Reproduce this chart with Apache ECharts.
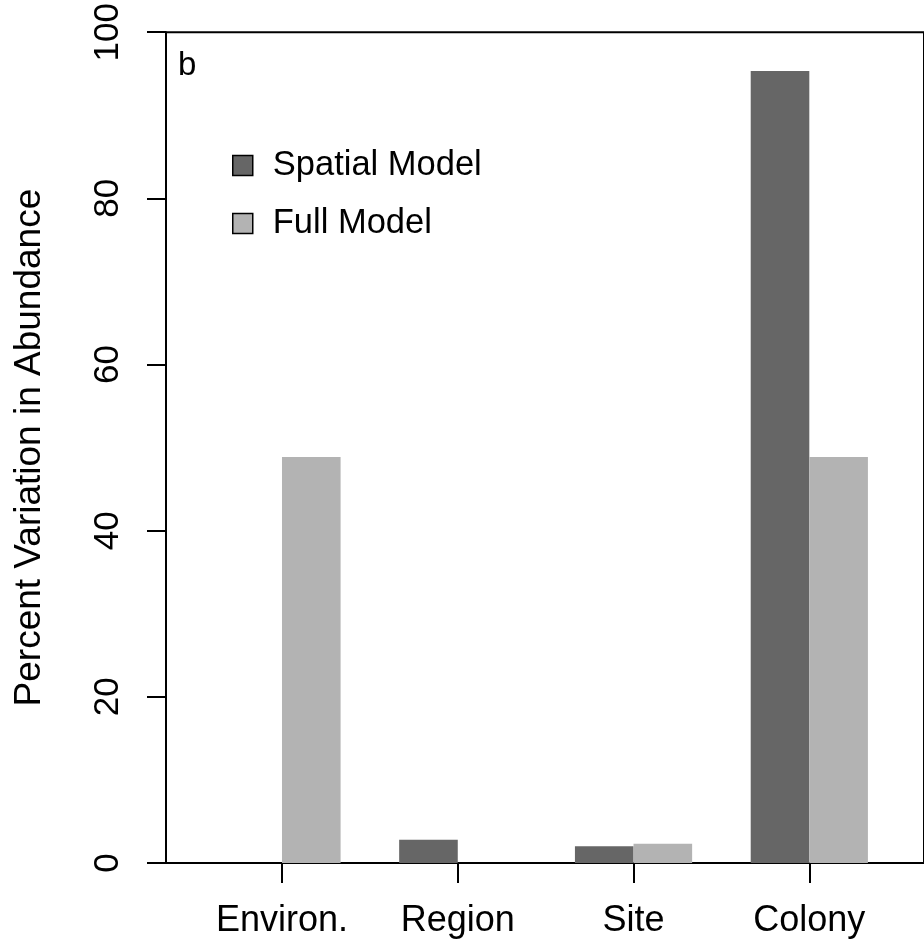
<!DOCTYPE html>
<html>
<head>
<meta charset="utf-8">
<script src="https://cdn.jsdelivr.net/npm/echarts@6/dist/echarts.min.js"></script>
<style>
html,body{margin:0;padding:0;background:#fff;}
#chart{width:924px;height:943px;}
</style>
</head>
<body>
<div id="chart"></div>
<script>
var categories = ['Environ.', 'Region', 'Site', 'Colony'];
var spatialModel = [0, 2.8, 2.0, 95.2];
var fullModel = [48.8, 0, 2.3, 48.8];
var yMin = 0, yMax = 100, yStep = 20;
var seriesNames = ['Spatial Model', 'Full Model'];
var panelLabel = 'b';
var yTitle = 'Percent Variation in Abundance';

var FONT = '"Liberation Sans", Arial, Helvetica, sans-serif';
var chart = echarts.init(document.getElementById('chart'), null, {renderer: 'canvas'});
var option = {
  animation: false,
  backgroundColor: '#fff',
  textStyle: {fontFamily: FONT, color: '#000'},
  title: {
    text: panelLabel, left: 178, top: 49, padding: 0,
    textStyle: {fontFamily: FONT, fontSize: 33, fontWeight: 'normal', color: '#000'}
  },
  legend: {
    orient: 'vertical', left: 232, top: 148, itemGap: 23, padding: 0,
    icon: 'rect', itemWidth: 20, itemHeight: 20,
    itemStyle: {borderColor: '#000', borderWidth: 1.5},
    textStyle: {fontFamily: FONT, fontSize: 34.5, color: '#000', padding: [0, 0, 0, 15]},
    data: seriesNames
  },
  grid: [
    {left: 166, top: 31, width: 770, height: 832, show: true, borderColor: '#000', borderWidth: 2, backgroundColor: 'transparent'},
    {left: 194.1, top: 31, width: 703.1, height: 832, show: false}
  ],
  xAxis: [
    {gridIndex: 0, type: 'value', min: 0, max: 1, show: false},
    {gridIndex: 1, type: 'category', data: categories,
      axisLine: {show: false},
      axisTick: {show: true, alignWithLabel: true, length: 20, lineStyle: {color: '#000', width: 2}},
      axisLabel: {fontFamily: FONT, fontSize: 36, color: '#000', margin: 40},
      splitLine: {show: false}}
  ],
  yAxis: [
    {gridIndex: 0, type: 'value', min: yMin, max: yMax, interval: yStep,
      axisLine: {show: true, lineStyle: {color: '#000', width: 2}},
      axisTick: {show: true, length: 19, lineStyle: {color: '#000', width: 2}},
      axisLabel: {fontFamily: FONT, fontSize: 35, color: '#000', rotate: 90, margin: 40},
      splitLine: {show: false},
      name: yTitle, nameLocation: 'middle', nameRotate: 90, nameGap: 118,
      nameTextStyle: {fontFamily: FONT, fontSize: 37, color: '#000'}},
    {gridIndex: 1, type: 'value', min: yMin, max: yMax, show: false, splitLine: {show: false}}
  ],
  series: [
    {name: seriesNames[0], type: 'bar', xAxisIndex: 1, yAxisIndex: 1, data: spatialModel,
      barWidth: 58.6, barGap: '0%', itemStyle: {color: '#666666'}},
    {name: seriesNames[1], type: 'bar', xAxisIndex: 1, yAxisIndex: 1, data: fullModel,
      barWidth: 58.6, barGap: '0%', itemStyle: {color: '#b3b3b3'}}
  ]
};
chart.setOption(option);
</script>
</body>
</html>
